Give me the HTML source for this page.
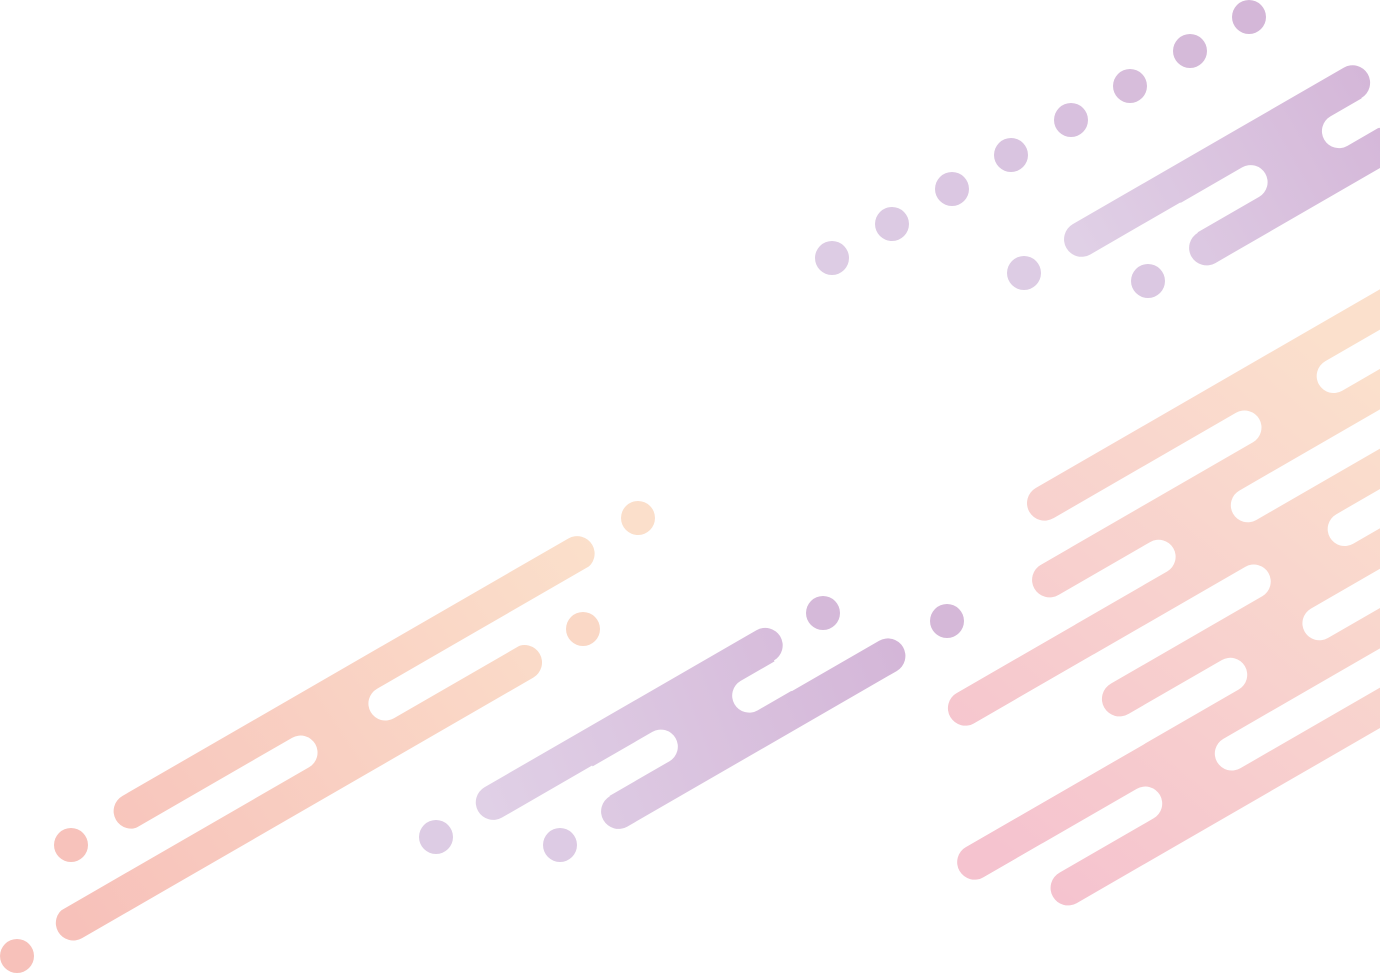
<!DOCTYPE html>
<html><head><meta charset="utf-8"><style>html,body{margin:0;padding:0;background:#fff;width:1380px;height:974px;overflow:hidden}svg{display:block}</style></head>
<body>
<svg width="1380" height="974" viewBox="0 0 1380 974" xmlns="http://www.w3.org/2000/svg">
<defs>
<linearGradient id="gTop" gradientUnits="userSpaceOnUse" x1="1080" y1="250" x2="1380" y2="80"><stop offset="0" stop-color="#e0d0e6"/><stop offset="1" stop-color="#d4b6d8"/></linearGradient>
<linearGradient id="gMid" gradientUnits="userSpaceOnUse" x1="480" y1="800" x2="900" y2="640"><stop offset="0" stop-color="#e0d0e6"/><stop offset="1" stop-color="#d4b6d8"/></linearGradient>
<linearGradient id="gSal" gradientUnits="userSpaceOnUse" x1="60" y1="900" x2="600" y2="540"><stop offset="0" stop-color="#f7c1ba"/><stop offset="1" stop-color="#fbe0cb"/></linearGradient>
<linearGradient id="gRight" gradientUnits="userSpaceOnUse" x1="1000" y1="850" x2="1380" y2="380"><stop offset="0" stop-color="#f5c3cf"/><stop offset="1" stop-color="#fbe0cc"/></linearGradient>

<mask id="mTop" maskUnits="userSpaceOnUse" x="0" y="0" width="1380" height="974">
<g transform="rotate(-30)">
<rect x="799.5" y="730.5" width="348" height="35" rx="17.5" fill="#fff"/>
<rect x="903.5" y="800.5" width="2000" height="35" rx="17.5" fill="#fff"/>
<rect x="921" y="748" width="209" height="70" fill="#fff"/>
<rect x="-2000" y="766" width="3009" height="34" rx="17" fill="#000"/>
<rect x="1077" y="766" width="2000" height="34" rx="17" fill="#000"/>
</g></mask>

<mask id="mSal" maskUnits="userSpaceOnUse" x="0" y="0" width="1380" height="974">
<g transform="rotate(-30)">
<rect x="-309.5" y="750.5" width="550" height="35" rx="17.5" fill="#fff"/>
<rect x="-415.5" y="818.5" width="556" height="35" rx="17.5" fill="#fff"/>
<rect x="-292" y="768" width="415" height="68" fill="#fff"/>
<rect x="-2000" y="785" width="1901" height="34" rx="17" fill="#000"/>
<rect x="-35" y="785" width="2000" height="34" rx="17" fill="#000"/>
</g></mask>

<mask id="mMid" maskUnits="userSpaceOnUse" x="0" y="0" width="1380" height="974">
<g transform="rotate(-30)">
<rect x="8.5" y="924" width="349" height="35" rx="17.5" fill="#fff"/>
<rect x="112.5" y="994.5" width="346" height="35" rx="17.5" fill="#fff"/>
<rect x="130" y="941" width="210" height="71" fill="#fff"/>
<rect x="-2000" y="960" width="2216" height="34" rx="17" fill="#000"/>
<rect x="284" y="960" width="2000" height="34" rx="17" fill="#000"/>
</g></mask>

<mask id="mRight" maskUnits="userSpaceOnUse" x="0" y="0" width="1380" height="974">
<g transform="rotate(-30)">
<rect x="635.5" y="940.5" width="3000" height="35" rx="17.5" fill="#fff"/>
<rect x="601.5" y="1009.5" width="3000" height="35" rx="17.5" fill="#fff"/>
<rect x="464.5" y="1078.5" width="3000" height="35" rx="17.5" fill="#fff"/>
<rect x="602.5" y="1147.5" width="3000" height="35" rx="17.5" fill="#fff"/>
<rect x="395.5" y="1216.5" width="3000" height="35" rx="17.5" fill="#fff"/>
<rect x="463.5" y="1285.5" width="3000" height="35" rx="17.5" fill="#fff"/>
<rect x="653" y="958" width="3000" height="69" fill="#fff"/>
<rect x="619" y="1027" width="3000" height="69" fill="#fff"/>
<rect x="620" y="1096" width="3000" height="69" fill="#fff"/>
<rect x="620" y="1165" width="3000" height="69" fill="#fff"/>
<rect x="481" y="1234" width="3000" height="69" fill="#fff"/>
<rect x="-2000" y="975.5" width="2881" height="34" rx="17" fill="#000"/>
<rect x="-2000" y="1044.5" width="2742" height="34" rx="17" fill="#000"/>
<rect x="-2000" y="1113.5" width="2812" height="34" rx="17" fill="#000"/>
<rect x="-2000" y="1182.5" width="2745" height="34" rx="17" fill="#000"/>
<rect x="-2000" y="1251.5" width="2607" height="34" rx="17" fill="#000"/>
<rect x="950" y="975.5" width="3000" height="34" rx="17" fill="#000"/>
<rect x="811" y="1044.5" width="3000" height="34" rx="17" fill="#000"/>
<rect x="883" y="1113.5" width="3000" height="34" rx="17" fill="#000"/>
<rect x="814" y="1182.5" width="3000" height="34" rx="17" fill="#000"/>
<rect x="673" y="1251.5" width="3000" height="34" rx="17" fill="#000"/>
</g></mask>
</defs>

<rect x="0" y="0" width="1380" height="974" fill="url(#gTop)" mask="url(#mTop)"/>
<rect x="0" y="0" width="1380" height="974" fill="url(#gSal)" mask="url(#mSal)"/>
<rect x="0" y="0" width="1380" height="974" fill="url(#gMid)" mask="url(#mMid)"/>
<rect x="0" y="0" width="1380" height="974" fill="url(#gRight)" mask="url(#mRight)"/>

<g>
<circle cx="832" cy="258" r="17" fill="#ddcce4"/>
<circle cx="892" cy="224" r="17" fill="#dccae3"/>
<circle cx="952" cy="189" r="17" fill="#dbc7e2"/>
<circle cx="1011" cy="155" r="17" fill="#d9c4e0"/>
<circle cx="1071" cy="120" r="17" fill="#d8c0de"/>
<circle cx="1130" cy="86" r="17" fill="#d7bddb"/>
<circle cx="1190" cy="51" r="17" fill="#d5bad9"/>
<circle cx="1249" cy="17" r="17" fill="#d4b7d8"/>
<circle cx="1024" cy="273" r="17" fill="#ddcce4"/>
<circle cx="1148" cy="281" r="17" fill="#dbc8e2"/>
<circle cx="823" cy="613" r="17" fill="#d5b9d9"/>
<circle cx="947" cy="621" r="17" fill="#d5b8d8"/>
<circle cx="436" cy="837" r="17" fill="#ddcce4"/>
<circle cx="560" cy="845" r="17" fill="#ddcbe4"/>
<circle cx="71" cy="845" r="17" fill="#f7c2bb"/>
<circle cx="17" cy="956" r="17" fill="#f7c1ba"/>
<circle cx="583" cy="629" r="17" fill="#fad8c6"/>
<circle cx="638" cy="518" r="17" fill="#fbdfcb"/>
</g>
</svg>
</body></html>
